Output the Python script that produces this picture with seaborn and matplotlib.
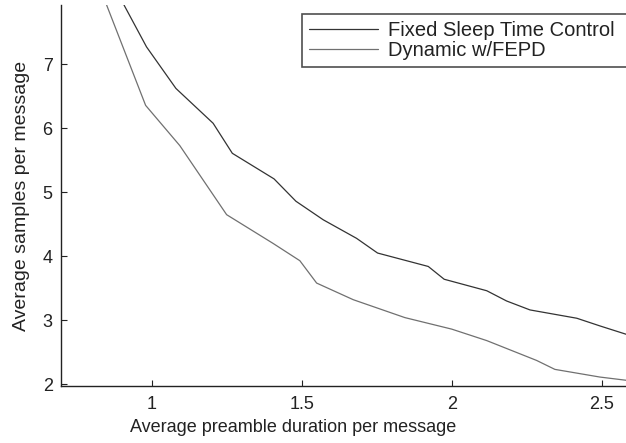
import matplotlib
matplotlib.use("Agg")
import matplotlib.pyplot as plt
import seaborn as sns
import pandas as pd

# Fixed sleep-time control curve
fixed_x = [0.907, 0.982, 1.08, 1.204, 1.268, 1.407, 1.48, 1.571, 1.682, 1.752,
           1.921, 1.974, 2.116, 2.182, 2.26, 2.416, 2.493, 2.58]
fixed_y = [7.93, 7.275, 6.625, 6.08, 5.61, 5.21, 4.86, 4.57, 4.28, 4.05,
           3.84, 3.64, 3.46, 3.30, 3.16, 3.03, 2.91, 2.78]

# Dynamic sleep-time control with FEPD
dyn_x = [0.849, 0.979, 1.093, 1.249, 1.404, 1.493, 1.549, 1.671, 1.843, 1.999,
         2.116, 2.282, 2.343, 2.493, 2.58]
dyn_y = [7.93, 6.36, 5.73, 4.65, 4.20, 3.93, 3.58, 3.32, 3.04, 2.86,
         2.68, 2.37, 2.23, 2.11, 2.06]

series_names = ["Fixed Sleep Time Control", "Dynamic w/FEPD"]
x_ticks = [1, 1.5, 2, 2.5]
x_ticklabels = ["1", "1.5", "2", "2.5"]
y_ticks = [2, 3, 4, 5, 6, 7]

df = pd.concat([
    pd.DataFrame({"x": fixed_x, "y": fixed_y, "series": series_names[0]}),
    pd.DataFrame({"x": dyn_x, "y": dyn_y, "series": series_names[1]}),
])

sns.set_style("ticks")
plt.rcParams["font.family"] = ["Liberation Sans", "DejaVu Sans"]

fig = plt.figure(figsize=(6.26, 4.43), dpi=100)
ax = fig.add_axes([61 / 626, 57 / 443, 565 / 626, 381 / 443])

sns.lineplot(data=df, x="x", y="y", hue="series", hue_order=series_names,
             palette=["#333333", "#707070"], linewidth=0.9, sort=False,
             estimator=None, ax=ax, legend=True)

ax.set_xlim(0.697, 2.58)
ax.set_ylim(1.97, 7.93)
ax.set_xticks(x_ticks)
ax.set_xticklabels(x_ticklabels)
ax.set_yticks(y_ticks)
ax.tick_params(direction="in", length=4, width=0.8, labelsize=13,
               colors="#222222")
ax.tick_params(axis="x", pad=7.5)
ax.tick_params(axis="y", pad=6)
ax.set_xlabel("Average preamble duration per message", fontsize=13,
              color="#222222")
ax.set_ylabel("Average samples per message", fontsize=14,
              color="#222222")
ax.xaxis.set_label_coords((293 - 61) / 565, (24 - 57) / 381)
ax.yaxis.set_label_coords((30 - 61) / 565, 0.5)

for side in ["top", "right"]:
    ax.spines[side].set_visible(False)
for side in ["left", "bottom"]:
    ax.spines[side].set_linewidth(1.0)
    ax.spines[side].set_color("#222222")

# legend box runs past the right edge of the figure
leg_x0 = (302 - 61) / 565
leg_top = (386 - 14) / 381
leg = ax.legend(loc="upper left",
                bbox_to_anchor=(leg_x0, leg_top - 0.2, 340 / 565, 0.2),
                mode="expand", fontsize=14.5, frameon=True, fancybox=False,
                handlelength=3.4, handletextpad=0.5, borderpad=0.35,
                labelspacing=0.06, borderaxespad=0)
leg.get_frame().set_edgecolor("#222222")
leg.get_frame().set_linewidth(1.2)
for t in leg.get_texts():
    t.set_color("#222222")

fig.savefig("out.png", dpi=100)
